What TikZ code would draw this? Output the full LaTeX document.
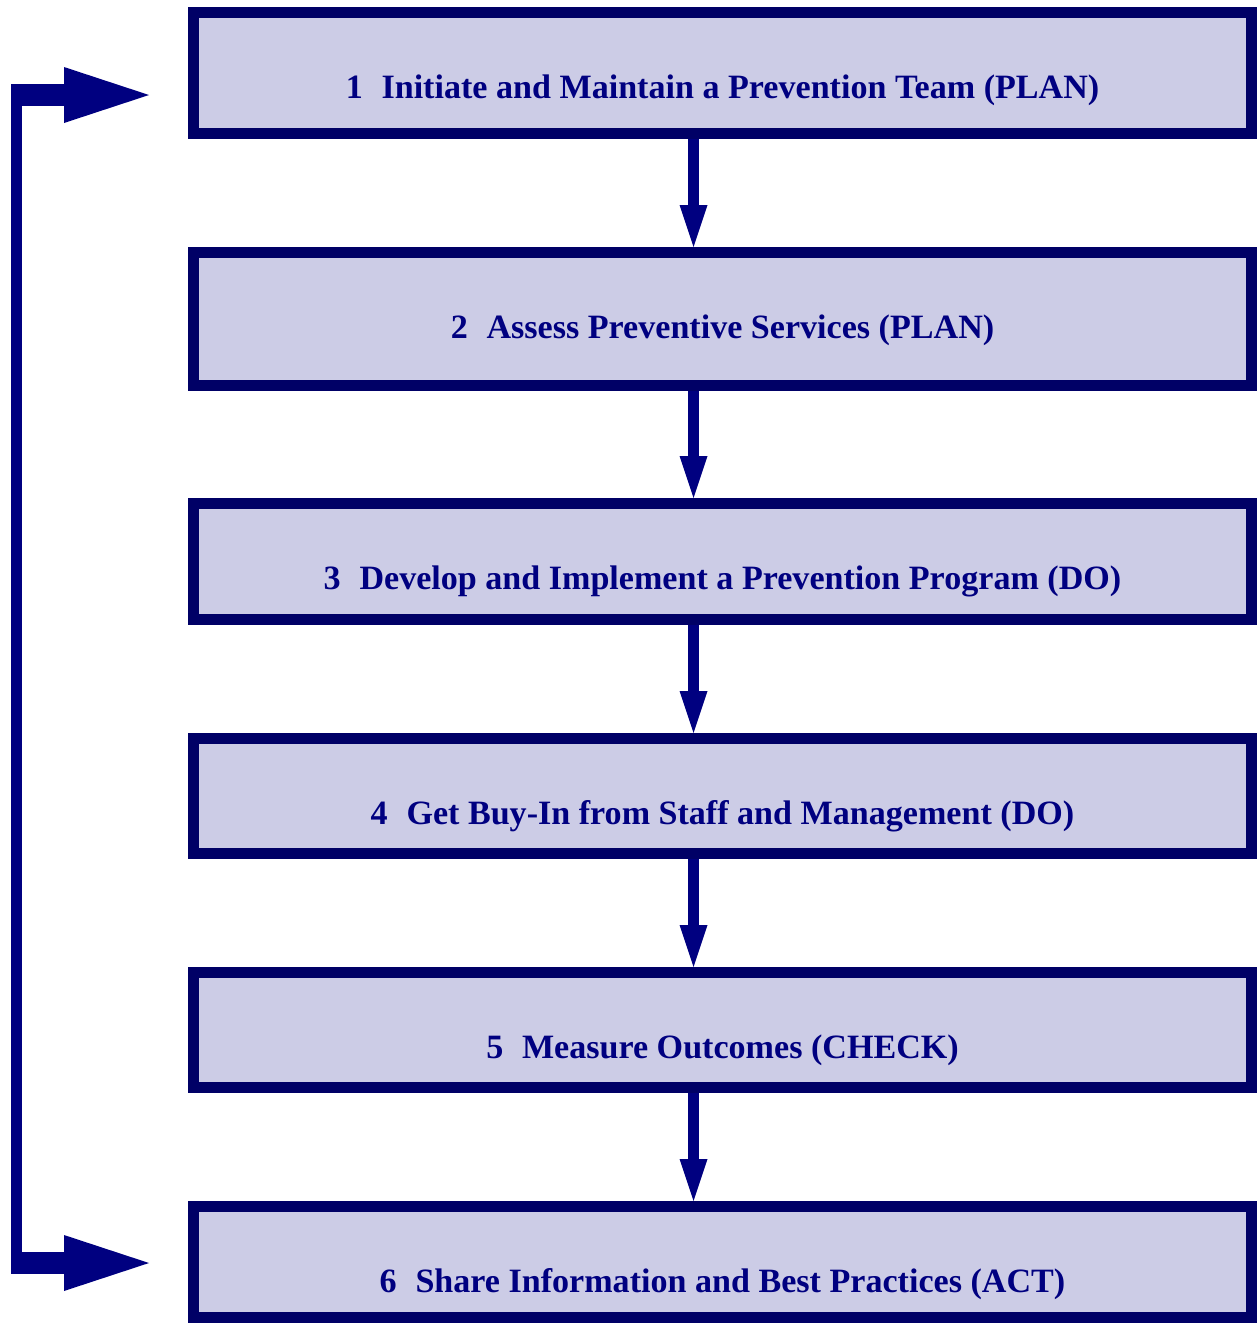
\documentclass[tikz,border=0pt]{standalone}
\usepackage{fontspec}
\setmainfont{Liberation Serif}
\usetikzlibrary{arrows.meta}
\definecolor{boxfill}{RGB}{204,204,230}
\definecolor{boxline}{RGB}{0,0,102}
\definecolor{flownavy}{RGB}{0,0,128}
\newcommand{\stepgap}{\hspace{0.55em}}

\begin{document}
\begin{tikzpicture}[x=0.02cm, y=-0.02cm, font=\fontsize{19.4}{23}\selectfont\bfseries, line join=miter,
	stage/.style={draw=boxline, fill=boxfill, line width=0.22cm, minimum width=21.16cm, inner sep=0pt, text height=1.73cm, anchor=north, text=flownavy},
	flow/.style={draw=flownavy, line width=0.22cm, -{Triangle[width=0.56cm, length=0.84cm, line width=0pt]}},
	loopflow/.style={draw=flownavy, line width=0.44cm, -{Triangle[width=1.12cm, length=1.7cm, line width=0pt]}}]
	\useasboundingbox (0,0) rectangle (1257,1323);
	\node[stage, text depth=0.69cm] (s1) at (722.5,7) {1\stepgap Initiate and Maintain a Prevention Team (PLAN)};
	\node[stage, text depth=0.93cm] (s2) at (722.5,247) {2\stepgap Assess Preventive Services (PLAN)};
	\node[stage, text depth=0.59cm] (s3) at (722.5,498) {3\stepgap Develop and Implement a Prevention Program (DO)};
	\node[stage, text depth=0.57cm] (s4) at (722.5,733) {4\stepgap Get Buy-In from Staff and Management (DO)};
	\node[stage, text depth=0.57cm] (s5) at (722.5,967) {5\stepgap Measure Outcomes (CHECK)};
	\node[stage, text depth=0.49cm] (s6) at (722.5,1201) {6\stepgap Share Information and Best Practices (ACT)};
	\draw[flow] ([xshift=-0.58cm]s1.south) -- ([xshift=-0.58cm]s2.north);
	\draw[flow] ([xshift=-0.58cm]s2.south) -- ([xshift=-0.58cm]s3.north);
	\draw[flow] ([xshift=-0.58cm]s3.south) -- ([xshift=-0.58cm]s4.north);
	\draw[flow] ([xshift=-0.58cm]s4.south) -- ([xshift=-0.58cm]s5.north);
	\draw[flow] ([xshift=-0.58cm]s5.south) -- ([xshift=-0.58cm]s6.north);
	% feedback loop on the left
	\coordinate (topin) at (149,95);
	\coordinate (botin) at (149,1263);
	\draw[draw=flownavy, line width=0.22cm] (16.5,84) -- (16.5,1274);
	\draw[loopflow] (11,95) -- (topin);
	\draw[loopflow] (11,1263) -- (botin);
\end{tikzpicture}
\end{document}
